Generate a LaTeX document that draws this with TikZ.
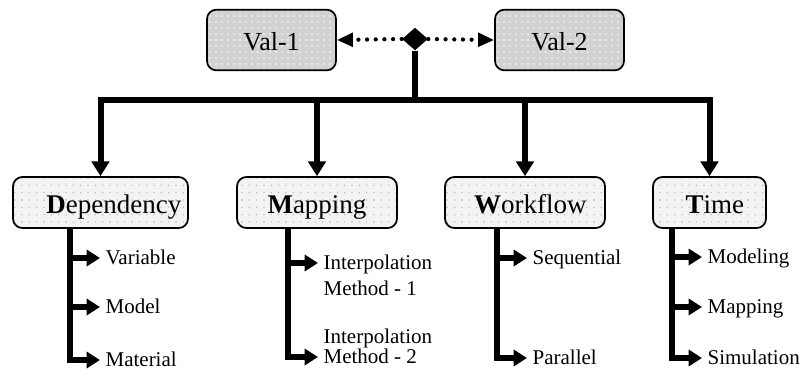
\documentclass[tikz,border=0pt]{standalone}
\usepackage{fontspec}
\setmainfont{Liberation Serif}
\usetikzlibrary{positioning}
\usetikzlibrary{shapes.geometric}
\usetikzlibrary{arrows.meta}
\usetikzlibrary{patterns.meta}
\definecolor{valgray}{RGB}{210,210,210}
\definecolor{boxgray}{RGB}{243,243,243}
\definecolor{dotgray}{RGB}{185,185,185}

\begin{document}
\begin{tikzpicture}[
            x=0.75pt, y=-0.75pt,
            val node/.style={draw, line width=1.3pt, rounded corners=7pt,
                preaction={fill=valgray}, pattern={Dots[distance=4.5pt,radius=0.6pt]}, pattern color=white,
                minimum width=96.75pt, minimum height=45.5pt,
                font=\fontsize{19.5pt}{23pt}\selectfont, text height=15.5pt, text depth=0.5pt},
            box node/.style={draw, line width=1.3pt, rounded corners=7pt,
                preaction={fill=boxgray}, pattern={Dots[distance=5.5pt,radius=0.6pt]}, pattern color=dotgray,
                minimum height=38.25pt,
                font=\fontsize{20.25pt}{24pt}\selectfont, text height=16pt, text depth=0.2pt},
            item node/.style={anchor=west, inner xsep=4pt, inner ysep=0pt,
                font=\fontsize{15.75pt}{19pt}\selectfont, text height=10.4pt, text depth=0pt},
            trunk line/.style={line width=4.5pt},
            branch line/.style={line width=4.5pt, -{Triangle[length=10pt,width=12pt]}},
            link line/.style={line width=3.2pt, line cap=round, dash pattern=on 0pt off 6.5pt,
                -{Triangle[length=12pt,width=10pt]}},
            ]
            \useasboundingbox (0,0) rectangle (803,376);

            \node[val node] (val1) at (271.5,40) {Val-1};
            \node[val node] (val2) at (559.5,40) {Val-2};
            \node[diamond, fill=black, inner sep=0pt, minimum width=19.5pt, minimum height=17pt] (join) at (415,39) {};

            \node[box node, minimum width=131.25pt] (dep) at (100.5,202.5) {\hspace*{20pt}{\bfseries D}ependency};
            \node[box node, minimum width=120pt] (map) at (317,202.5) {{\bfseries M}apping};
            \node[box node, minimum width=120pt] (work) at (525,202.5) {\hspace*{8pt}{\bfseries W}orkflow};
            \node[box node, minimum width=84.75pt] (time) at (709.5,202.5) {\hspace*{8pt}{\bfseries T}ime};

            \coordinate (bar) at (415,100);
            \coordinate (depstem) at (70,228);
            \coordinate (mapstem) at (288,228);
            \coordinate (workstem) at (497,228);
            \coordinate (timestem) at (672,228);

            \node[item node] (variable) at (100,258) {Variable};
            \node[item node] (model) at (100,307) {Model};
            \node[item node] (material) at (100,360) {Material};

            \node[item node] (interp1) at (318,263) {Interpolation};
            \node[item node, below=8.25pt of interp1.south west, anchor=north west] (method1) {Method - 1};
            \node[item node] (method2) at (318,357) {Method - 2};
            \node[item node, above=4.5pt of method2.north west, anchor=south west] (interp2) {Interpolation};

            \node[item node] (sequential) at (527,258) {Sequential};
            \node[item node] (parallel) at (527,358) {Parallel};

            \node[item node] (modeling) at (702,257) {Modeling};
            \node[item node] (tmapping) at (702,307) {Mapping};
            \node[item node] (simulation) at (702,358) {Simulation};

            \draw[link line] (join.west) -- (val1.east);
            \draw[link line] (join.east) -- (val2.west);

            \draw[trunk line] (join.south) -- (bar);
            \draw[trunk line, -{Triangle[length=11pt,width=13pt]}] (bar) -| (dep.north);
            \draw[trunk line, -{Triangle[length=11pt,width=13pt]}] (bar) -| (time.north);
            \draw[trunk line, -{Triangle[length=11pt,width=13pt]}] (map.north |- bar) -- (map.north);
            \draw[trunk line, -{Triangle[length=11pt,width=13pt]}] (work.north |- bar) -- (work.north);

            \draw[branch line] (depstem) |- (material.west);
            \draw[branch line] (depstem |- variable.west) -- (variable.west);
            \draw[branch line] (depstem |- model.west) -- (model.west);

            \draw[branch line] (mapstem) |- (method2.west);
            \draw[branch line] (mapstem |- interp1.west) -- (interp1.west);

            \draw[branch line] (workstem) |- (parallel.west);
            \draw[branch line] (workstem |- sequential.west) -- (sequential.west);

            \draw[branch line] (timestem) |- (simulation.west);
            \draw[branch line] (timestem |- modeling.west) -- (modeling.west);
            \draw[branch line] (timestem |- tmapping.west) -- (tmapping.west);
        \end{tikzpicture}
\end{document}
